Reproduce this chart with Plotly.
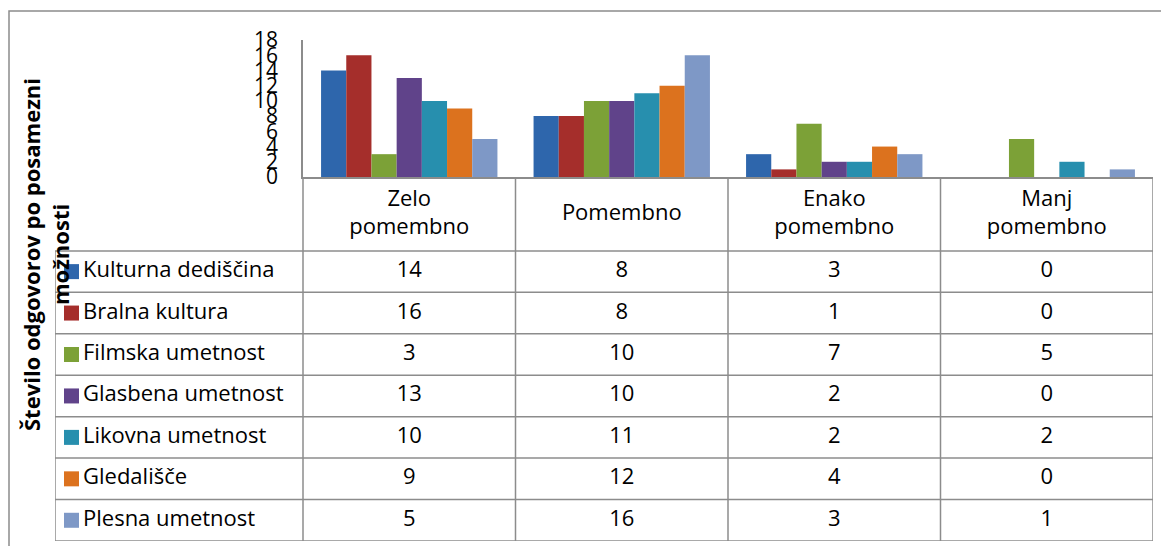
import plotly.graph_objects as go

# page is 1169x546, the plot div sits 8px in from the top-left corner
OFF = 8
W, H = 1169 - OFF, 546 - OFF

categories = ["Zelo pomembno", "Pomembno", "Enako pomembno", "Manj pomembno"]
header_labels = ["Zelo<br>pomembno", "Pomembno", "Enako<br>pomembno", "Manj<br>pomembno"]
series_names = ["Kulturna dediščina", "Bralna kultura", "Filmska umetnost",
                "Glasbena umetnost", "Likovna umetnost", "Gledališče", "Plesna umetnost"]
kulturna = [14, 8, 3, 0]
bralna = [16, 8, 1, 0]
filmska = [3, 10, 7, 5]
glasbena = [13, 10, 2, 0]
likovna = [10, 11, 2, 2]
gledalisce = [9, 12, 4, 0]
plesna = [5, 16, 3, 1]
y_ticks = [0, 2, 4, 6, 8, 10, 12, 14, 16, 18]

series_values = [kulturna, bralna, filmska, glasbena, likovna, gledalisce, plesna]
colors = ["#2E66AC", "#A52E2B", "#7CA137", "#60438A", "#278FAE", "#DC721E", "#7E98C6"]

FONT = "Open Sans"
GRID = "#8C8C8C"


def px(x):
    """page x pixel -> paper fraction"""
    return (x - OFF) / W


def py(y):
    """page y pixel (from top) -> paper fraction"""
    return 1 - (y - OFF) / H


# table geometry (units of one category column / one body row)
COL_W = 212.5
LEG_W = 248 / COL_W
ROW_H = 41.5
HEAD_H = 73 / ROW_H
n_cat = len(categories)
n_ser = len(series_names)

fig = go.Figure()

for name, vals, col in zip(series_names, series_values, colors):
    fig.add_trace(go.Bar(
        x=categories, y=vals, name=name,
        marker=dict(color=col, line=dict(width=0)),
        showlegend=False,
    ))

# --- data table drawn on a second pair of axes ---
fig.add_trace(go.Scatter(
    x=[i + 0.5 for i in range(n_cat)], y=[-HEAD_H / 2] * n_cat,
    text=header_labels, mode="text", textposition="middle center",
    textfont=dict(family=FONT, size=22, color="black"),
    xaxis="x2", yaxis="y2", showlegend=False, hoverinfo="skip",
))
for j, vals in enumerate(series_values):
    fig.add_trace(go.Scatter(
        x=[i + 0.5 for i in range(n_cat)], y=[j + 0.5] * n_cat,
        text=[str(v) for v in vals], mode="text", textposition="middle center",
        textfont=dict(family=FONT, size=22, color="black"),
        xaxis="x2", yaxis="y2", showlegend=False, hoverinfo="skip",
    ))
fig.add_trace(go.Scatter(
    x=[-LEG_W + 16.5 / COL_W] * n_ser, y=[j + 0.5 for j in range(n_ser)],
    mode="markers", marker=dict(symbol="square", size=15, color=colors, line=dict(width=0)),
    xaxis="x2", yaxis="y2", showlegend=False, hoverinfo="skip",
))
fig.add_trace(go.Scatter(
    x=[-LEG_W + 28 / COL_W] * n_ser, y=[j + 0.5 for j in range(n_ser)],
    text=series_names, mode="text", textposition="middle right",
    textfont=dict(family=FONT, size=22, color="black"),
    xaxis="x2", yaxis="y2", showlegend=False, hoverinfo="skip",
))

# table grid lines
line_style = dict(color=GRID, width=1.5)
for i in range(n_cat + 1):
    fig.add_shape(type="line", xref="x2", yref="y2", x0=i, x1=i,
                  y0=-HEAD_H, y1=n_ser, line=line_style)
fig.add_shape(type="line", xref="x2", yref="y2", x0=-LEG_W, x1=-LEG_W,
              y0=0, y1=n_ser, line=line_style)
for j in range(n_ser + 1):
    fig.add_shape(type="line", xref="x2", yref="y2", x0=-LEG_W, x1=n_cat,
                  y0=j, y1=j, line=line_style)
fig.add_shape(type="line", xref="x2", yref="y2", x0=0, x1=n_cat,
              y0=-HEAD_H, y1=-HEAD_H, line=line_style)

fig.add_annotation(
    text="<b>Število odgovorov po posamezni<br>možnosti</b>",
    textangle=-90, xref="paper", yref="paper",
    x=px(45), y=py(255), xanchor="center", yanchor="middle", showarrow=False,
    font=dict(family=FONT, size=22, color="black"),
)

# outer chart frame
fig.add_shape(type="rect", xref="paper", yref="paper",
              x0=px(9), x1=1.02, y0=-0.02, y1=py(11),
              line=dict(color=GRID, width=1.5))

fig.update_layout(
    width=W, height=H,
    margin=dict(l=0, r=0, t=0, b=0, autoexpand=False),
    paper_bgcolor="white", plot_bgcolor="rgba(0,0,0,0)",
    barmode="group", bargap=0.17, bargroupgap=0,
    font=dict(family=FONT, size=20, color="black"),
    xaxis=dict(domain=[px(303), px(1153)], showticklabels=False, ticks="",
               showline=True, linecolor=GRID, linewidth=1.5, showgrid=False,
               automargin=False),
    yaxis=dict(domain=[py(177), py(40)], range=[0, 18],
               tickvals=y_ticks, showgrid=False, zeroline=False,
               showline=True, linecolor=GRID, linewidth=1.5,
               ticks="", ticklabelstandoff=19, automargin=False,
               tickfont=dict(family=FONT, size=21, color="black")),
    xaxis2=dict(domain=[px(55), px(1153)], range=[-LEG_W, n_cat],
                visible=False, fixedrange=True, automargin=False),
    yaxis2=dict(domain=[py(541), py(178)], range=[n_ser, -HEAD_H],
                visible=False, fixedrange=True, automargin=False),
)

fig.write_html("out.html")
